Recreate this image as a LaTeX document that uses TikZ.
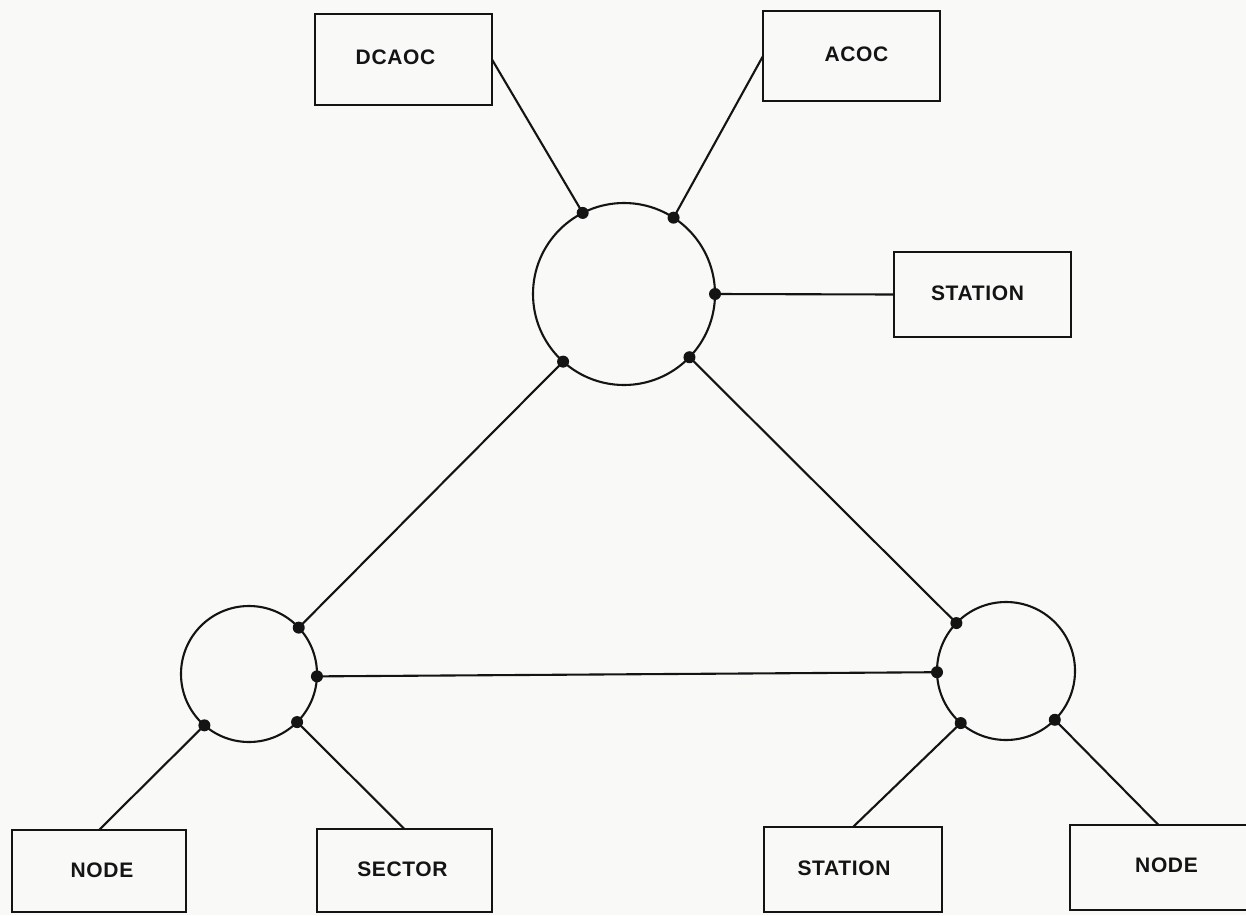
\documentclass[tikz,border=0pt]{standalone}
\usepackage{fontspec}
\setmainfont{Liberation Sans}
\definecolor{paper}{RGB}{249,249,247}
\definecolor{ink}{RGB}{20,20,20}
\begin{document}
\begin{tikzpicture}[x=1pt,y=-1pt,
  unit/.style={draw=ink, line width=2.1pt, rectangle, inner sep=0pt, outer sep=0pt,
    minimum width=177pt},
  hub/.style={draw=ink, line width=2.1pt, circle, inner sep=0pt, outer sep=0pt},
  link/.style={draw=ink, line width=2.1pt},
  tap/.style={fill=ink},
  lbl/.style={font=\fontsize{21}{21}\selectfont\bfseries\addfontfeature{LetterSpace=3}, text=ink, inner sep=0pt}]
  \fill[paper] (0,0) rectangle (1246,915);
  \useasboundingbox (0,0) rectangle (1246,915);

  % ring hubs
  \node[hub, minimum size=182pt] (top) at (624,294) {};
  \node[hub, minimum size=136pt] (left) at (249,674) {};
  \node[hub, minimum size=138pt] (right) at (1006,671) {};

  % terminal boxes
  \node[unit, minimum height=91pt] (dcaoc) at (403.5,59.5) {};
  \node[unit, minimum height=90pt] (acoc) at (851.5,56) {};
  \node[unit, minimum height=85pt] (sta1) at (982.5,294.5) {};
  \node[unit, minimum width=174pt, minimum height=82pt] (nodeL) at (99,871) {};
  \node[unit, minimum width=175pt, minimum height=83pt] (sector) at (404.5,870.5) {};
  \node[unit, minimum width=178pt, minimum height=85pt] (sta2) at (853,869.5) {};
  \node[unit, minimum height=85pt] (nodeR) at (1158.5,867.5) {};

  % box captions
  \node[lbl] (dcaocT) at ([xshift=-8pt,yshift=2pt]dcaoc.center) {DCAOC};
  \node[lbl] (acocT) at ([xshift=5pt,yshift=2pt]acoc.center) {ACOC};
  \node[lbl] (sta1T) at ([xshift=-5pt,yshift=1pt]sta1.center) {STATION};
  \node[lbl] (nodeLT) at ([xshift=3pt,yshift=1pt]nodeL.center) {NODE};
  \node[lbl] (sectorT) at ([xshift=-2pt,yshift=1pt]sector.center) {SECTOR};
  \node[lbl] (sta2T) at ([xshift=-9pt,yshift=1pt]sta2.center) {STATION};
  \node[lbl] (nodeRT) at ([xshift=8pt,yshift=2pt]nodeR.center) {NODE};

  % connection points on the hubs
  \coordinate (t1) at (top.117);
  \coordinate (t2) at (top.57);
  \coordinate (t3) at (top.0);
  \coordinate (t4) at (top.-132);
  \coordinate (t5) at (top.-44);
  \coordinate (l1) at (left.43);
  \coordinate (l2) at (left.-2);
  \coordinate (l3) at (left.229);
  \coordinate (l4) at (left.-45);
  \coordinate (r1) at (right.136);
  \coordinate (r2) at (right.181);
  \coordinate (r3) at (right.229);
  \coordinate (r4) at (right.-45);

  % links
  \draw[link] (dcaoc.east) -- (t1);
  \draw[link] (acoc.west) -- (t2);
  \draw[link] (sta1.west) -- (t3);
  \draw[link] (t4) -- (l1);
  \draw[link] (t5) -- (r1);
  \draw[link] (l2) -- (r2);
  \draw[link] (l3) -- (nodeL.north);
  \draw[link] (l4) -- (sector.north);
  \draw[link] (r3) -- (sta2.north);
  \draw[link] (r4) -- (nodeR.north);

  % taps
  \foreach \p in {t1,t2,t3,t4,t5,l1,l2,l3,l4,r1,r2,r3,r4}
    \fill[tap] (\p) circle (6pt);
\end{tikzpicture}
\end{document}
